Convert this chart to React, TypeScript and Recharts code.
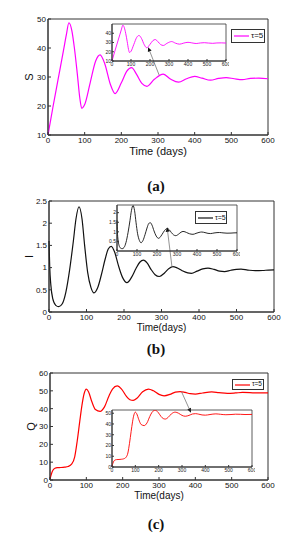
import React from 'react'
import { LineChart, Line, XAxis, YAxis, ReferenceLine, ReferenceArea } from 'recharts'

// time axis shared by all panels
const timeTicks = [0, 100, 200, 300, 400, 500, 600]

// (a) S
const sTime = [0, 14, 28, 42, 50, 57, 65, 72, 80, 87, 92, 100, 115, 130, 142, 155, 170, 183, 200, 215, 228, 242, 256, 270, 290, 314, 335, 356, 378, 400, 420, 443, 465, 486, 508, 530, 552, 575, 600]
const sValues = [10, 20, 29.5, 39, 44.5, 48.7, 46, 40, 31, 22.5, 19.2, 20.5, 28, 35.5, 37.6, 34.5, 27.5, 24.3, 28, 32, 33.2, 30.8, 27.8, 26.8, 29.2, 31, 29.2, 28.2, 29.4, 30.2, 29.6, 28.9, 29.5, 29.8, 29.4, 29.1, 29.5, 29.6, 29.4]
const sTicks = [10, 20, 30, 40, 50]
const sInsetTicks = [10, 20, 30, 40]

// (b) I
const iTime = [0, 2, 5, 10, 18, 26, 35, 45, 55, 65, 72, 80, 88, 95, 103, 112, 120, 130, 140, 150, 158, 166, 175, 185, 196, 208, 220, 232, 242, 252, 262, 272, 283, 294, 308, 320, 330, 340, 355, 370, 380, 395, 410, 424, 440, 455, 468, 485, 500, 512, 530, 550, 570, 585, 600]
const iValues = [1.6, 1.0, 0.6, 0.3, 0.15, 0.12, 0.18, 0.45, 0.95, 1.6, 2.1, 2.37, 2.1, 1.5, 0.9, 0.55, 0.43, 0.55, 0.85, 1.2, 1.42, 1.48, 1.35, 1.05, 0.78, 0.66, 0.78, 0.98, 1.12, 1.17, 1.1, 0.96, 0.84, 0.8, 0.88, 0.98, 1.02, 1.0, 0.93, 0.88, 0.87, 0.92, 0.97, 0.99, 0.96, 0.92, 0.91, 0.94, 0.96, 0.965, 0.945, 0.93, 0.935, 0.945, 0.95]
const iTicks = [0, 0.5, 1, 1.5, 2, 2.5]
const iInsetTicks = [0.5, 1, 1.5, 2]

// (c) Q
const qTime = [0, 4, 8, 14, 20, 30, 40, 50, 60, 68, 75, 82, 88, 94, 100, 106, 115, 125, 138, 150, 162, 172, 185, 197, 210, 220, 229, 240, 255, 271, 285, 300, 314, 330, 345, 358, 372, 386, 400, 420, 445, 465, 488, 510, 530, 550, 570, 600]
const qValues = [0.5, 3.5, 5.5, 6.6, 6.9, 7.0, 7.2, 7.6, 9, 13, 22, 33, 42, 48.5, 51, 49.5, 44, 39.5, 38.5, 41, 47, 51, 52.8, 51, 47, 45, 44.6, 46, 49.5, 51, 50, 48, 47.2, 48, 49.3, 49.6, 49.1, 48.4, 48.2, 48.8, 49.4, 49.0, 48.6, 48.8, 49.1, 49.0, 48.8, 48.9]
const qTicks = [0, 10, 20, 30, 40, 50, 60]
const qInsetTicks = [0, 10, 20, 30, 40, 50]

// arrows: tail (t, value) on the main curve -> head (t, value), main chart units
const sArrow = [303, 30.7, 273, 40.3]
const iArrow = [328, 1.01, 315, 1.91]
const qArrow = [362, 49.5, 388, 37.7]

const legendLabel = 'τ=5'

const font = '"Liberation Sans", Arial, sans-serif'
const axisColor = '#333'

type Box = { left: number; right: number; top: number; bottom: number }
type Row = { t: number; v: number }

const toRows = (t: number[], v: number[]): Row[] => t.map((x, i) => ({ t: x, v: v[i] }))

const arrowShape = (props: any) => {
  const { x1, y1, x2, y2 } = props
  const ang = Math.atan2(y2 - y1, x2 - x1)
  const len = 4.5
  const w = 2
  const bx = x2 - len * Math.cos(ang)
  const by = y2 - len * Math.sin(ang)
  const px = -Math.sin(ang) * w
  const py = Math.cos(ang) * w
  return (
    <g>
      <line x1={x1} y1={y1} x2={bx} y2={by} stroke="#777" strokeWidth={0.8} />
      <polygon points={`${x2},${y2} ${bx + px},${by + py} ${bx - px},${by - py}`} fill="#111" />
    </g>
  )
}

const xTitle = (text: string, dy: number, size: number) => (p: any) => {
  const vb = p.viewBox
  return (
    <text x={vb.x + vb.width / 2} y={vb.y + dy} textAnchor="middle" dominantBaseline="central" fontSize={size} fontFamily={font} fill="#111">
      {text}
    </text>
  )
}

const yTitle = (text: string, dx: number) => (p: any) => {
  const vb = p.viewBox
  const x = vb.x + dx
  const y = vb.y + vb.height / 2
  return (
    <text x={x} y={y} transform={`rotate(-90 ${x} ${y})`} textAnchor="middle" dominantBaseline="central" fontSize={11} fontFamily={font} fill="#111">
      {text}
    </text>
  )
}

function LegendBox({ box, color, fontSize }: { box: Box; color: string; fontSize: number }) {
  return (
    <div
      style={{
        position: 'absolute',
        left: box.left,
        top: box.top,
        width: box.right - box.left,
        height: box.bottom - box.top,
        boxSizing: 'border-box',
        border: `1px solid ${axisColor}`,
        background: '#fff',
        display: 'flex',
        alignItems: 'center',
        fontFamily: font,
        fontSize,
        lineHeight: 1,
        color: '#111',
      }}
    >
      <svg width={15} height={4} style={{ marginLeft: 2, marginRight: 2 }}>
        <line x1={0} y1={2} x2={15} y2={2} stroke={color} strokeWidth={1.2} />
      </svg>
      <span>{legendLabel}</span>
    </div>
  )
}

interface PanelCfg {
  top: number
  height: number
  plot: Box
  rows: Row[]
  yDomain: [number, number]
  yTicks: number[]
  color: string
  xText: string
  xDy: number
  xSize: number
  yText: string
  yX: number
  arrow: number[]
  inset: Box
  insetDomain: [number, number]
  insetTicks: number[]
}

function MainChart({ cfg }: { cfg: PanelCfg }) {
  const { top, height, plot } = cfg
  const yW = 30
  const xH = 30
  const margin = {
    left: plot.left - yW,
    right: 300 - plot.right,
    top: plot.top - top,
    bottom: height - (plot.bottom - top) - xH,
  }
  const tick = { fontSize: 8, fill: '#111', fontFamily: font }
  return (
    <div style={{ position: 'absolute', left: 0, top, width: 300, height }}>
      <LineChart width={300} height={height} data={cfg.rows} margin={margin}>
        <XAxis xAxisId="b" type="number" dataKey="t" domain={[0, 600]} ticks={timeTicks} interval={0} tickSize={-3} tickMargin={5} height={xH} stroke={axisColor} tick={tick} label={xTitle(cfg.xText, cfg.xDy, cfg.xSize)} />
        <XAxis xAxisId="t" orientation="top" type="number" dataKey="t" domain={[0, 600]} ticks={timeTicks} interval={0} tickSize={-3} height={0} stroke={axisColor} tick={false} />
        <YAxis yAxisId="l" type="number" domain={cfg.yDomain} allowDataOverflow ticks={cfg.yTicks} interval={0} tickSize={-3} tickMargin={5} width={yW} stroke={axisColor} tick={tick} label={yTitle(cfg.yText, cfg.yX - (plot.left - yW))} />
        <YAxis yAxisId="r" orientation="right" type="number" domain={cfg.yDomain} allowDataOverflow ticks={cfg.yTicks} interval={0} tickSize={-3} width={0} stroke={axisColor} tick={false} />
        <ReferenceArea xAxisId="b" yAxisId="l" x1={0} x2={600} y1={cfg.yDomain[0]} y2={cfg.yDomain[1]} fill="none" stroke={axisColor} strokeWidth={1} ifOverflow="visible" />
        <Line xAxisId="b" yAxisId="l" dataKey="v" type="monotone" stroke={cfg.color} strokeWidth={1.2} dot={false} isAnimationActive={false} />
        <ReferenceLine
          xAxisId="b"
          yAxisId="l"
          segment={[
            { x: cfg.arrow[0], y: cfg.arrow[1] },
            { x: cfg.arrow[2], y: cfg.arrow[3] },
          ]}
          ifOverflow="visible"
          shape={arrowShape}
        />
      </LineChart>
    </div>
  )
}

function InsetChart({ cfg }: { cfg: PanelCfg }) {
  const b = cfg.inset
  const yW = 12
  const xH = 9
  const mt = 3
  const mr = 3
  const w = b.right - b.left + yW + mr
  const h = b.bottom - b.top + mt + xH
  const tick = { fontSize: 5, fill: '#222', fontFamily: font }
  return (
    <div style={{ position: 'absolute', left: b.left - yW, top: b.top - mt, width: w, height: h }}>
      <LineChart width={w} height={h} data={cfg.rows} margin={{ left: 0, right: mr, top: mt, bottom: 0 }}>
        <XAxis xAxisId="b" type="number" dataKey="t" domain={[0, 600]} ticks={timeTicks} interval={0} tickSize={-2} tickMargin={3} height={xH} stroke={axisColor} tick={tick} />
        <XAxis xAxisId="t" orientation="top" type="number" dataKey="t" domain={[0, 600]} ticks={timeTicks} interval={0} tickSize={-2} height={0} stroke={axisColor} tick={false} />
        <YAxis yAxisId="l" type="number" domain={cfg.insetDomain} allowDataOverflow ticks={cfg.insetTicks} interval={0} tickSize={-2} tickMargin={3} width={yW} stroke={axisColor} tick={tick} />
        <YAxis yAxisId="r" orientation="right" type="number" domain={cfg.insetDomain} allowDataOverflow ticks={cfg.insetTicks} interval={0} tickSize={-2} width={0} stroke={axisColor} tick={false} />
        <ReferenceArea xAxisId="b" yAxisId="l" x1={0} x2={600} y1={cfg.insetDomain[0]} y2={cfg.insetDomain[1]} fill="none" stroke={axisColor} strokeWidth={0.8} ifOverflow="visible" />
        <Line xAxisId="b" yAxisId="l" dataKey="v" type="monotone" stroke={cfg.color} strokeWidth={0.9} dot={false} isAnimationActive={false} />
      </LineChart>
    </div>
  )
}

function Tag({ text, y }: { text: string; y: number }) {
  return (
    <div style={{ position: 'absolute', left: 126, top: y - 9, width: 60, textAlign: 'center', fontFamily: '"Liberation Serif", "Times New Roman", serif', fontWeight: 'bold', fontSize: 15, lineHeight: '18px', color: '#111' }}>
      {text}
    </div>
  )
}

const panelA: PanelCfg = {
  top: 0,
  height: 170,
  plot: { left: 48, right: 268, top: 19, bottom: 135 },
  rows: toRows(sTime, sValues),
  yDomain: [10, 50],
  yTicks: sTicks,
  color: '#ff00ff',
  xText: 'Time (days)',
  xDy: 16,
  xSize: 11,
  yText: 'S',
  yX: 29,
  arrow: sArrow,
  inset: { left: 112, right: 226, top: 24, bottom: 61 },
  insetDomain: [10, 50],
  insetTicks: sInsetTicks,
}

const panelB: PanelCfg = {
  top: 190,
  height: 160,
  plot: { left: 49, right: 274, top: 201, bottom: 312 },
  rows: toRows(iTime, iValues),
  yDomain: [0, 2.5],
  yTicks: iTicks,
  color: '#111111',
  xText: 'Time(days)',
  xDy: 15,
  xSize: 10,
  yText: 'I',
  yX: 29,
  arrow: iArrow,
  inset: { left: 117, right: 237, top: 205, bottom: 251 },
  insetDomain: [0, 2.4],
  insetTicks: iInsetTicks,
}

const panelC: PanelCfg = {
  top: 360,
  height: 150,
  plot: { left: 50, right: 268, top: 373, bottom: 480 },
  rows: toRows(qTime, qValues),
  yDomain: [0, 60],
  yTicks: qTicks,
  color: '#ff0000',
  xText: 'Time(days)',
  xDy: 15,
  xSize: 10,
  yText: 'Q',
  yX: 31,
  arrow: qArrow,
  inset: { left: 112, right: 252, top: 410, bottom: 467 },
  insetDomain: [0, 53],
  insetTicks: qInsetTicks,
}

export default function App() {
  return (
    <div style={{ position: 'absolute', left: 0, top: 0, width: 300, height: 536, background: '#fff', overflow: 'hidden' }}>
      <MainChart cfg={panelA} />
      <InsetChart cfg={panelA} />
      <LegendBox box={{ left: 231, right: 265, top: 29, bottom: 43 }} color={panelA.color} fontSize={8} />
      <Tag text="(a)" y={186} />

      <MainChart cfg={panelB} />
      <InsetChart cfg={panelB} />
      <LegendBox box={{ left: 195, right: 227, top: 211, bottom: 224 }} color={panelB.color} fontSize={7} />
      <Tag text="(b)" y={349} />

      <MainChart cfg={panelC} />
      <InsetChart cfg={panelC} />
      <LegendBox box={{ left: 232, right: 264, top: 379, bottom: 390 }} color={panelC.color} fontSize={6.5} />
      <Tag text="(c)" y={524} />
    </div>
  )
}
